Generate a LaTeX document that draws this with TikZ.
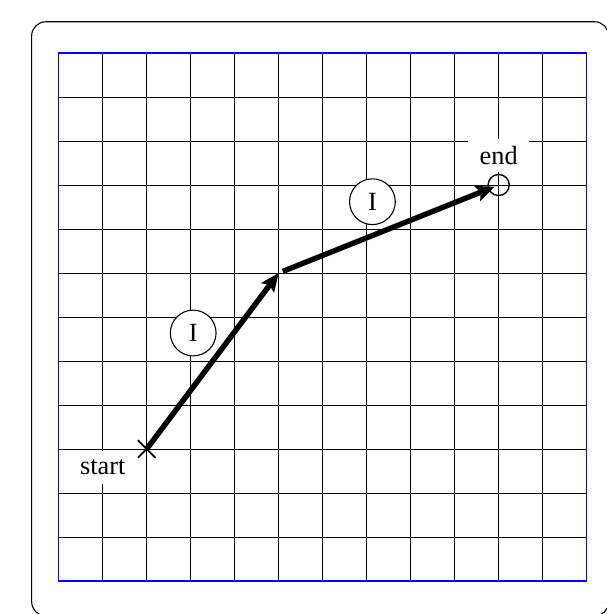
\documentclass[tikz,border=0pt]{standalone}
\usepackage{fontspec}
\setmainfont{Liberation Serif}
\usetikzlibrary{arrows.meta}
\tikzset{
  gridline/.style={line width=0.6pt, black},
  framebox/.style={line width=0.8pt, blue},
  outerbox/.style={line width=0.7pt, black, rounded corners=0.32cm},
  tagbox/.style={fill=white, inner sep=0pt, minimum width=1.39cm, minimum height=0.75cm, font=\fontsize{17}{20}\selectfont},
  ringlabel/.style={circle, draw, fill=white, line width=0.7pt, minimum size=1.04cm, inner sep=0pt, font=\fontsize{17}{20}\selectfont},
  movearrow/.style={line width=3.5pt, -{Stealth[length=0.42cm, width=0.36cm, inset=0.08cm]}},
  markline/.style={line width=1.1pt}
}
\begin{document}
\begin{tikzpicture}
\useasboundingbox (-1.334,-0.75) rectangle (12.461,13.205);
\begin{scope}
\clip (-1.334,-0.75) rectangle (12.461,13.205);
\draw[outerbox] (-0.614,-0.795) rectangle (12.50,12.71);
\end{scope}
\draw[gridline] (0,0) grid[step=1] (12,12);
\draw[framebox] (0,0) rectangle (12,12);
\coordinate (s) at (2,3);
\coordinate (m) at (5,7);
\coordinate (e) at (10,9);
\node[tagbox] (startlbl) at (1.0,2.59) {start};
\node[tagbox] (endlbl) at (10,9.68) {end};
\node[ringlabel] (r1) at (3.057,5.636) {I};
\node[ringlabel] (r2) at (7.13,8.62) {I};
\draw[markline] ([shift={(-0.2,-0.2)}]s) -- ([shift={(0.2,0.2)}]s);
\draw[markline] ([shift={(-0.2,0.2)}]s) -- ([shift={(0.2,-0.2)}]s);
\node[circle, draw, line width=0.9pt, minimum size=0.48cm, inner sep=0pt] (ec) at (e) {};
\draw[movearrow] (s) -- (m);
\draw[movearrow, shorten <=0.1cm, shorten >=0.1cm] (m) -- (e);
\end{tikzpicture}
\end{document}
